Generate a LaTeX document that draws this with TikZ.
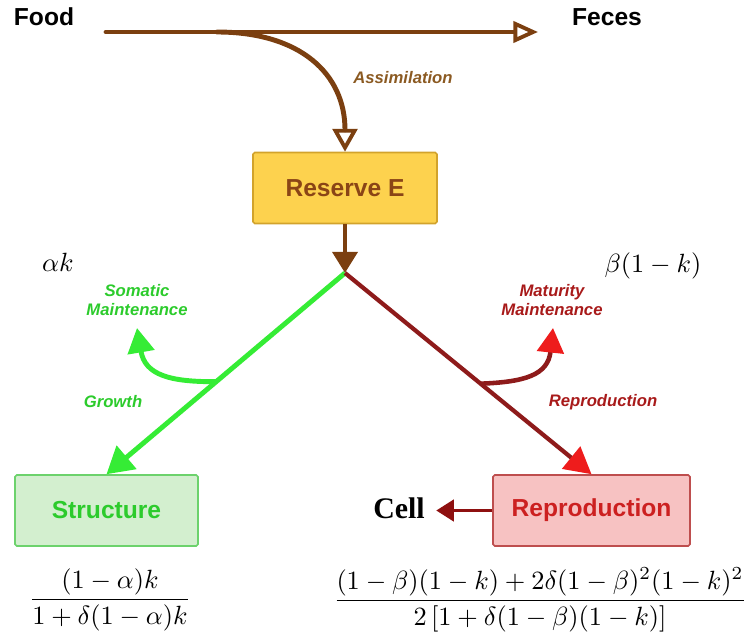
\documentclass[tikz,border=0pt]{standalone}
\usepackage{fontspec}
\newfontfamily\labelfont{Liberation Sans}
\newfontfamily\cellfont{Liberation Serif}
\usepackage{xcolor}
\usetikzlibrary{arrows.meta, positioning, calc}

\definecolor{brownline}{HTML}{7B3F10}
\definecolor{browntext}{HTML}{8A4516}
\definecolor{assimtext}{HTML}{8B5A22}
\definecolor{reservefill}{HTML}{FDD24E}
\definecolor{reservedraw}{HTML}{D2A32C}
\definecolor{greenline}{HTML}{35EC35}
\definecolor{greentext}{HTML}{2CCB2C}
\definecolor{structfill}{HTML}{D3EFCF}
\definecolor{structdraw}{HTML}{6CD26C}
\definecolor{redline}{HTML}{8E1B1B}
\definecolor{redhead}{HTML}{EE1C1C}
\definecolor{reprofill}{HTML}{F7C2C2}
\definecolor{reprodraw}{HTML}{BE4E4E}
\definecolor{reprotext}{HTML}{CC2020}
\definecolor{redlabel}{HTML}{A81A1A}
\definecolor{cellarrow}{HTML}{8E1010}

\begin{document}
\begin{tikzpicture}[
  x=0.02cm, y=-0.02cm,
  box/.style={rectangle, rounded corners=1pt, line width=0.9pt, minimum height=1.42cm, text centered, font=\labelfont\bfseries\fontsize{14}{16}\selectfont},
  bigtext/.style={font=\labelfont\bfseries\fontsize{14}{16}\selectfont},
  flowlabel/.style={align=center, font=\labelfont\bfseries\itshape\fontsize{9.5}{11}\selectfont},
  mathtext/.style={scale=1.5},
  openarrow/.style={line width=2.8pt, draw=brownline, line cap=round, -{Triangle[open, length=14pt, width=12pt, line width=2.2pt]}},
  brownarrow/.style={line width=2.8pt, draw=brownline, -{Triangle[length=12pt, width=14pt]}},
  greenarrow/.style={line width=2.8pt, draw=greenline, -{Triangle[length=15pt, width=17pt]}},
  redarrow/.style={line width=2.4pt, draw=redline, -{Triangle[length=15pt, width=16pt, color=redhead]}},
  cellflow/.style={line width=2.2pt, draw=cellarrow, -{Triangle[length=10pt, width=12pt]}}
]
\useasboundingbox (0,0) rectangle (749,639);

% boxes
\node (reserve) [box, minimum width=3.68cm, fill=reservefill, draw=reservedraw, text=browntext] at (345,188) {Reserve E};
\node (structure) [box, minimum width=3.66cm, fill=structfill, draw=structdraw, text=greentext] at (106.5,510.5) {Structure};
\node (repro) [box, minimum width=3.94cm, fill=reprofill, draw=reprodraw, text=reprotext] at (591.5,510.5) {Reproduction};

% plain labels
\node (food) [bigtext] at (44,17) {Food};
\node (feces) [bigtext] at (607,17) {Feces};
\node (cell) [font=\cellfont\bfseries\fontsize{17}{20}\selectfont] at (399,508) {Cell};
\node (assim) [flowlabel, text=assimtext] at (403,78) {Assimilation};
\node (soma) [flowlabel, text=greentext] at (137,300) {Somatic\\Maintenance};
\node (matu) [flowlabel, text=redlabel] at (552,300) {Maturity\\Maintenance};
\node (growth) [flowlabel, text=greentext] at (113,402) {Growth};
\node (reprolab) [flowlabel, text=redlabel] at (603,402) {Reproduction};
\node (ak) [mathtext] at (58,262) {$\alpha k$};
\node (bk) [mathtext] at (653,266) {$\beta(1-k)$};
\node (fstruct) [mathtext] at (110,600) {$\displaystyle\frac{(1-\alpha)k}{1+\delta(1-\alpha)k}$};
\node (frepro) [mathtext] at (540,600) {$\displaystyle\frac{(1-\beta)(1-k)+2\delta(1-\beta)^2(1-k)^2}{2\left[1+\delta(1-\beta)(1-k)\right]}$};

% flow points
\coordinate (in) at (106,32);
\coordinate (out) at (538,32);
\coordinate (split) at (217,32);
\coordinate (junction) at (345,273);
\coordinate (somatip) at (137,328);
\coordinate (matutip) at (553,328);

% arrows
\draw [openarrow] (in) -- (out);
\draw [openarrow, -{Triangle[open, length=13pt, width=14pt, line width=2.2pt]}] (split) .. controls +(83,0) and +(0,-78) .. (reserve.north);
\draw [brownarrow] (reserve.south) -- (junction);
\draw [greenarrow] (junction) -- coordinate[pos=0.54] (somabranch) (structure.north);
\draw [redarrow] (junction) -- coordinate[pos=0.55] (matubranch) (repro.north);
\draw [greenarrow, -{Triangle[length=14pt, width=15pt]}] (somabranch) .. controls (170,382) and (145,375) .. (somatip);
\draw [redarrow, line width=2.6pt, -{Triangle[length=14pt, width=15pt, color=redhead]}] (matubranch) .. controls (525,382) and (548,375) .. (matutip);
\draw [cellflow] (repro.west) -- ([xshift=3pt]repro.west -| cell.east);
\end{tikzpicture}
\end{document}
